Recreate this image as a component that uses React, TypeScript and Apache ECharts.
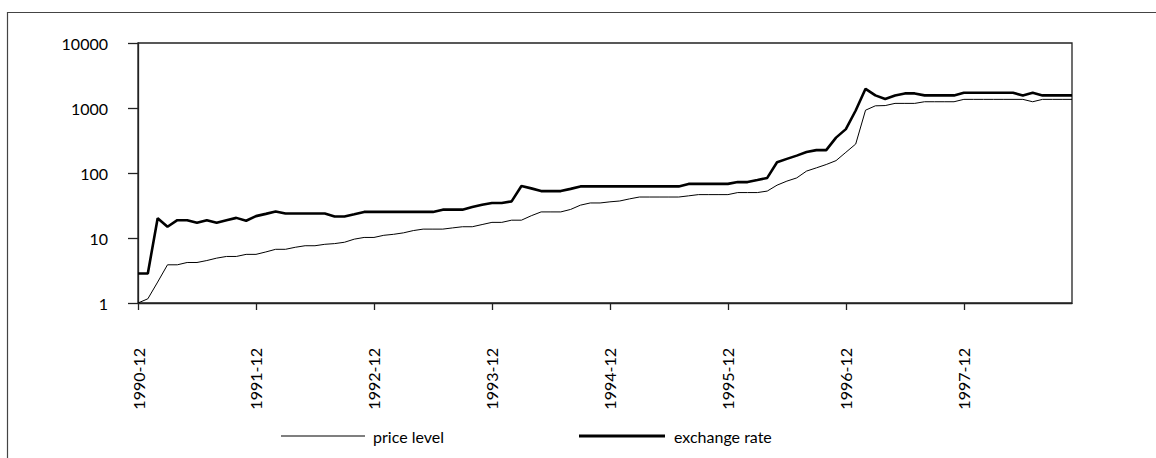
import React, { useEffect, useRef } from "react";
import * as echarts from "echarts";

// Monthly observations, 1990-12 .. 1998-11 (index 1990-12 = 1)
const startYear = 1990;
const startMonth = 12;
const monthCount = 96;

const priceLevel: number[] = [
  1.0, 1.16, 2.1, 3.87, 3.87, 4.2, 4.2, 4.5, 4.9, 5.2, 5.2, 5.6,
  5.6, 6.1, 6.7, 6.7, 7.2, 7.6, 7.6, 8.0, 8.2, 8.6, 9.6, 10.2,
  10.2, 11.0, 11.4, 12.0, 13.0, 13.7, 13.7, 13.7, 14.3, 14.9, 14.9, 16.1,
  17.4, 17.4, 18.8, 18.8, 22, 25.2, 25.2, 25.2, 27.5, 32, 34.6, 34.6,
  36, 37.1, 40, 42.7, 42.7, 42.7, 42.7, 42.7, 44.5, 46.5, 46.5, 46.5,
  46.5, 50, 50, 50, 52.7, 65, 75, 84, 107, 120, 135, 155,
  208, 279, 925, 1080, 1090, 1178, 1178, 1178, 1248, 1248, 1248, 1248,
  1358, 1358, 1358, 1358, 1358, 1358, 1358, 1248, 1358, 1358, 1358, 1358,
];

const exchangeRate: number[] = [
  2.85, 2.85, 20.2, 14.9, 18.8, 18.8, 17.1, 18.8, 17.1, 18.8, 20.4, 18.4,
  21.7, 23.5, 25.6, 23.8, 23.8, 23.8, 23.8, 23.8, 21.4, 21.4, 23.2, 25.2,
  25.2, 25.2, 25.2, 25.2, 25.2, 25.2, 25.2, 27.3, 27.3, 27.3, 30, 32.5,
  34.6, 34.6, 36.6, 63, 58, 52.7, 52.7, 52.7, 57, 62.2, 62.2, 62.2,
  62.2, 62.2, 62.2, 62.2, 62.2, 62.2, 62.2, 62.2, 68, 68, 68, 68,
  68, 72.5, 72.5, 78, 84, 146, 165, 185, 210, 225, 225, 350,
  473, 915, 1972, 1563, 1380, 1560, 1676, 1676, 1563, 1563, 1563, 1563,
  1714, 1714, 1714, 1714, 1714, 1714, 1563, 1714, 1563, 1563, 1563, 1563,
];

const categories: string[] = [];
for (let k = 0; k < monthCount; k++) {
  const m0 = startMonth - 1 + k;
  const y = startYear + Math.floor(m0 / 12);
  const m = (m0 % 12) + 1;
  categories.push(`${y}-${m}`);
}

const seriesNames = ["price level", "exchange rate"];
const FONT = "Lato, 'Open Sans', 'DejaVu Sans', sans-serif";
const AXIS_COLOR = "#222";

export default function App() {
  const ref = useRef<HTMLDivElement>(null);
  useEffect(() => {
    if (!ref.current) return;
    const chart = echarts.init(ref.current, undefined, { renderer: "svg" });
    chart.setOption({
      animation: false,
      backgroundColor: "#fff",
      textStyle: { fontFamily: FONT },
      graphic: [
        {
          type: "rect",
          silent: true,
          z: -10,
          shape: { x: 7.5, y: 12.5, width: 1400, height: 700 },
          style: { fill: "none", stroke: "#444", lineWidth: 1.2 },
        },
      ],
      grid: {
        left: 138,
        top: 43,
        width: 934,
        height: 260,
        show: true,
        borderColor: AXIS_COLOR,
        borderWidth: 1.3,
        backgroundColor: "transparent",
      },
      legend: [
        {
          left: 276,
          top: 423,
          itemWidth: 84,
          itemHeight: 1,
          itemGap: 0,
          data: [{ name: seriesNames[0], icon: "rect" }],
          itemStyle: { color: "#000" },
          textStyle: { fontSize: 16, color: "#000", fontFamily: FONT, padding: [0, 0, 0, 3] },
        },
        {
          left: 574,
          top: 423,
          itemWidth: 86,
          itemHeight: 3,
          itemGap: 0,
          data: [{ name: seriesNames[1], icon: "rect" }],
          itemStyle: { color: "#000" },
          textStyle: { fontSize: 16, color: "#000", fontFamily: FONT, padding: [0, 0, 0, 4] },
        },
      ],
      xAxis: {
        type: "category",
        data: categories,
        boundaryGap: false,
        axisLine: { show: true, lineStyle: { color: AXIS_COLOR, width: 1.3 } },
        axisTick: { show: true, interval: 11, length: 7, lineStyle: { color: AXIS_COLOR, width: 1.3 } },
        axisLabel: {
          interval: 11,
          rotate: 90,
          margin: 45,
          fontSize: 16,
          color: "#000",
          fontFamily: FONT,
        },
        splitLine: { show: false },
      },
      yAxis: {
        type: "log",
        logBase: 10,
        min: 1,
        max: 10000,
        axisLine: { show: true, lineStyle: { color: AXIS_COLOR, width: 1.3 } },
        axisTick: { show: true, length: 10, lineStyle: { color: AXIS_COLOR, width: 1.3 } },
        axisLabel: {
          margin: 30,
          fontSize: 16,
          color: "#000",
          fontFamily: FONT,
          formatter: (v: number) => String(Math.round(v)),
        },
        splitLine: { show: false },
      },
      series: [
        {
          name: seriesNames[0],
          type: "line",
          data: priceLevel,
          symbol: "none",
          lineStyle: { color: "#000", width: 1 },
          itemStyle: { color: "#000" },
        },
        {
          name: seriesNames[1],
          type: "line",
          data: exchangeRate,
          symbol: "none",
          lineStyle: { color: "#000", width: 2.6 },
          itemStyle: { color: "#000" },
        },
      ],
    });
    return () => chart.dispose();
  }, []);
  return (
    <div
      ref={ref}
      style={{ position: "absolute", left: 0, top: 0, width: 1156, height: 458 }}
    />
  );
}
